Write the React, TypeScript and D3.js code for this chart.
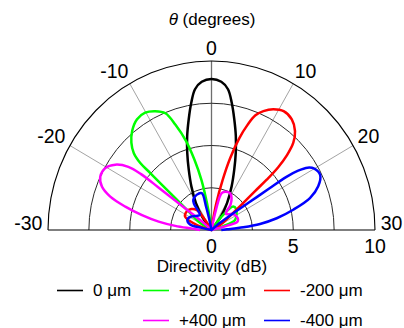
import React from 'react';
import * as d3 from 'd3';

// theta (degrees) and directivity (dB)
const angleTicks = [-30, -20, -10, 0, 10, 20, 30];
const spokeAngles = [-20, -10, 10, 20];
const ringValues = [2.5, 5, 7.5];
const radialTicks = [0, 5, 10];

const black: [number, number][] = [
  [-14, 0], [-12, 0.98], [-10.3, 1.85], [-8.5, 2.86], [-7.1, 3.83], [-6, 4.8], [-5, 5.75],
  [-4, 6.7], [-3.1, 7.64], [-2.3, 8.39], [-1.3, 8.79], [0, 8.93], [1.3, 8.79], [2.3, 8.39],
  [3.1, 7.64], [4, 6.7], [5, 5.75], [6, 4.8], [7.1, 3.83], [8.5, 2.86], [10.3, 1.85],
  [12, 0.98], [14, 0],
];

const green: [number, number][] = [
  [-20, 0], [-19.3, 0.92], [-17.3, 1.77], [-16.5, 2.91], [-16.2, 4.04], [-16, 5.04],
  [-15.9, 5.89], [-15.4, 6.59], [-14.5, 7.12], [-13.2, 7.61], [-11.6, 7.98], [-10.1, 8.04],
  [-8.7, 7.83], [-7.4, 7.46], [-6.5, 6.6], [-5.5, 5.5], [-4.7, 4.3], [-3.9, 3.0], [-3.3, 1.6],
  [-2.8, 0.6], [-2.3, 0], [12, 0], [13, 1.2], [14.6, 1.92], [17, 1.95], [19, 1.83],
  [22.5, 1.56], [24, 0.8], [25, 0],
];

const red: [number, number][] = [
  [-25, 0], [-24, 0.9], [-21.3, 1.8], [-18.1, 1.87], [-15, 1.75], [-12.5, 1.5], [-11, 0.6],
  [-10, 0], [2.5, 0], [3, 0.6], [3.5, 1.6], [4.3, 3.0], [5, 4.4], [5.8, 5.7], [6.5, 6.6],
  [7.2, 7.3], [8.1, 7.72], [9.3, 8.08], [10.7, 8.3], [12.3, 8.18], [13.7, 7.77], [14.7, 7.19],
  [15.4, 6.4], [15.9, 5.5], [16.2, 4.5], [16.4, 3.5], [16.9, 2.4], [17.7, 1.5], [19.5, 0.8],
  [20.5, 0],
];

const magenta: [number, number][] = [
  [-30, 0.7], [-28.7, 1.19], [-27.9, 2.23], [-27.1, 3.27], [-26.1, 4.34], [-25.1, 5.45],
  [-24.1, 6.5], [-23, 7.18], [-21.7, 7.5], [-20.2, 7.46], [-18.9, 7.04], [-17.9, 6.31],
  [-17.5, 5.43], [-17.4, 4.13], [-17.3, 2.85], [-17, 1.55], [-16.3, 0.6], [-15.3, 0],
  [3.5, 0], [4.3, 1.2], [5.3, 2.27], [7, 2.42], [9.1, 2.46], [11, 2.25], [12.6, 1.9],
  [14, 1.3], [16, 1.4], [18.5, 1.65], [20.9, 1.73], [23, 1.74], [24.4, 1.65], [25, 1.0],
  [25.5, 0.3], [26, 0],
];

const blue: [number, number][] = [
  [-26.5, 0], [-25.9, 0.6], [-25.4, 1.35], [-22.4, 1.6], [-19.5, 1.5], [-16, 1.25],
  [-13, 1.15], [-11.5, 1.9], [-10.6, 2.11], [-7.9, 2.27], [-5.1, 2.26], [-4.5, 1.4],
  [-4, 0.5], [-3.5, 0], [15.5, 0], [16.8, 0.6], [17.6, 1.4], [18.2, 2.8], [18.4, 4.27],
  [18.5, 5.53], [18.8, 6.32], [19.3, 6.94], [20, 7.26], [21.3, 7.4], [22.8, 7.02],
  [24.2, 6.31], [25.5, 5.14], [26.7, 4.05], [27.7, 2.99], [28.4, 1.95], [29.2, 0.95],
  [30, 0.6],
];

const series = [
  { label: '0 μm', color: '#000000', data: black, row: 0, col: 0 },
  { label: '+200 μm', color: '#00ff00', data: green, row: 0, col: 1 },
  { label: '-200 μm', color: '#ff0000', data: red, row: 0, col: 2 },
  { label: '+400 μm', color: '#ff00ff', data: magenta, row: 1, col: 1 },
  { label: '-400 μm', color: '#0000ff', data: blue, row: 1, col: 2 },
];

const W = 404;
const H = 328;
const cx = 211.5;
const cy = 230;
const rx = 163.5;
const ry = 169;
const font = '"Liberation Sans", Arial, sans-serif';

const legendCols = [57, 143, 264];
const legendRows = [290.5, 320.5];

export default function App() {
  const angle = d3.scaleLinear().domain([-30, 30]).range([-Math.PI / 2, Math.PI / 2]);
  const rad = d3.scaleLinear().domain([0, 10]).range([0, 1]);
  const px = (t: number, r: number) => cx + rx * rad(r) * Math.sin(angle(t));
  const py = (t: number, r: number) => cy - ry * rad(r) * Math.cos(angle(t));

  const line = d3
    .line<[number, number]>()
    .x(d => px(d[0], d[1]))
    .y(d => py(d[0], d[1]))
    .curve(d3.curveCatmullRom.alpha(0.5));

  const arc = (v: number) => {
    const k = rad(v);
    return `M${cx - rx * k},${cy}A${rx * k},${ry * k} 0 0 1 ${cx + rx * k},${cy}`;
  };

  return (
    <svg width={W} height={H} style={{ position: 'absolute', left: 0, top: 0 }} fontFamily={font}>
      <rect width={W} height={H} fill="#fff" />

      {spokeAngles.map(t => (
        <line key={t} x1={cx} y1={cy} x2={px(t, 10)} y2={py(t, 10)} stroke="#8c8c8c" strokeWidth={0.8} />
      ))}
      <line x1={cx} y1={cy} x2={px(0, 10)} y2={py(0, 10)} stroke="#6e6e6e" strokeWidth={1.3} />
      {ringValues.map(v => (
        <path key={v} d={arc(v)} fill="none" stroke="#2a2a2a" strokeWidth={1} />
      ))}
      <path d={arc(10)} fill="none" stroke="#000" strokeWidth={1.1} />
      <line x1={cx - rx} y1={cy} x2={cx + rx} y2={cy} stroke="#000" strokeWidth={1.1} />

      {series.map(s => (
        <path key={s.label} d={line(s.data) || ''} fill="none" stroke={s.color} strokeWidth={2.5} strokeLinejoin="round" />
      ))}

      {angleTicks.map(t => {
        const a = angle(t);
        const sgn = Math.sign(t);
        // number part centred just outside the ring, minus sign hangs to the left
        const x = cx + 172 * Math.sin(a) + 8 * sgn - (t < 0 ? 3.2 : 0);
        const y = cy - 175 * Math.cos(a);
        return (
          <text key={t} x={x} y={y} textAnchor="middle" fontSize={19.5} fill="#000">
            {t}
          </text>
        );
      })}
      {radialTicks.map(v => (
        <text key={v} x={cx + rx * rad(v)} y={253} textAnchor="middle" fontSize={19.5} fill="#000">
          {v}
        </text>
      ))}

      <text x={212} y={25} textAnchor="middle" fontSize={17} fill="#000">
        <tspan fontStyle="italic">θ</tspan> (degrees)
      </text>
      <text x={212} y={272} textAnchor="middle" fontSize={17} fill="#000">
        Directivity (dB)
      </text>

      {series.map(s => {
        const x = legendCols[s.col];
        const y = legendRows[s.row];
        return (
          <g key={'lg' + s.label}>
            <line x1={x} y1={y} x2={x + 26} y2={y} stroke={s.color} strokeWidth={1.6} />
            <text x={x + 36} y={y + 5} fontSize={17} fill="#000">
              {s.label}
            </text>
          </g>
        );
      })}
    </svg>
  );
}
